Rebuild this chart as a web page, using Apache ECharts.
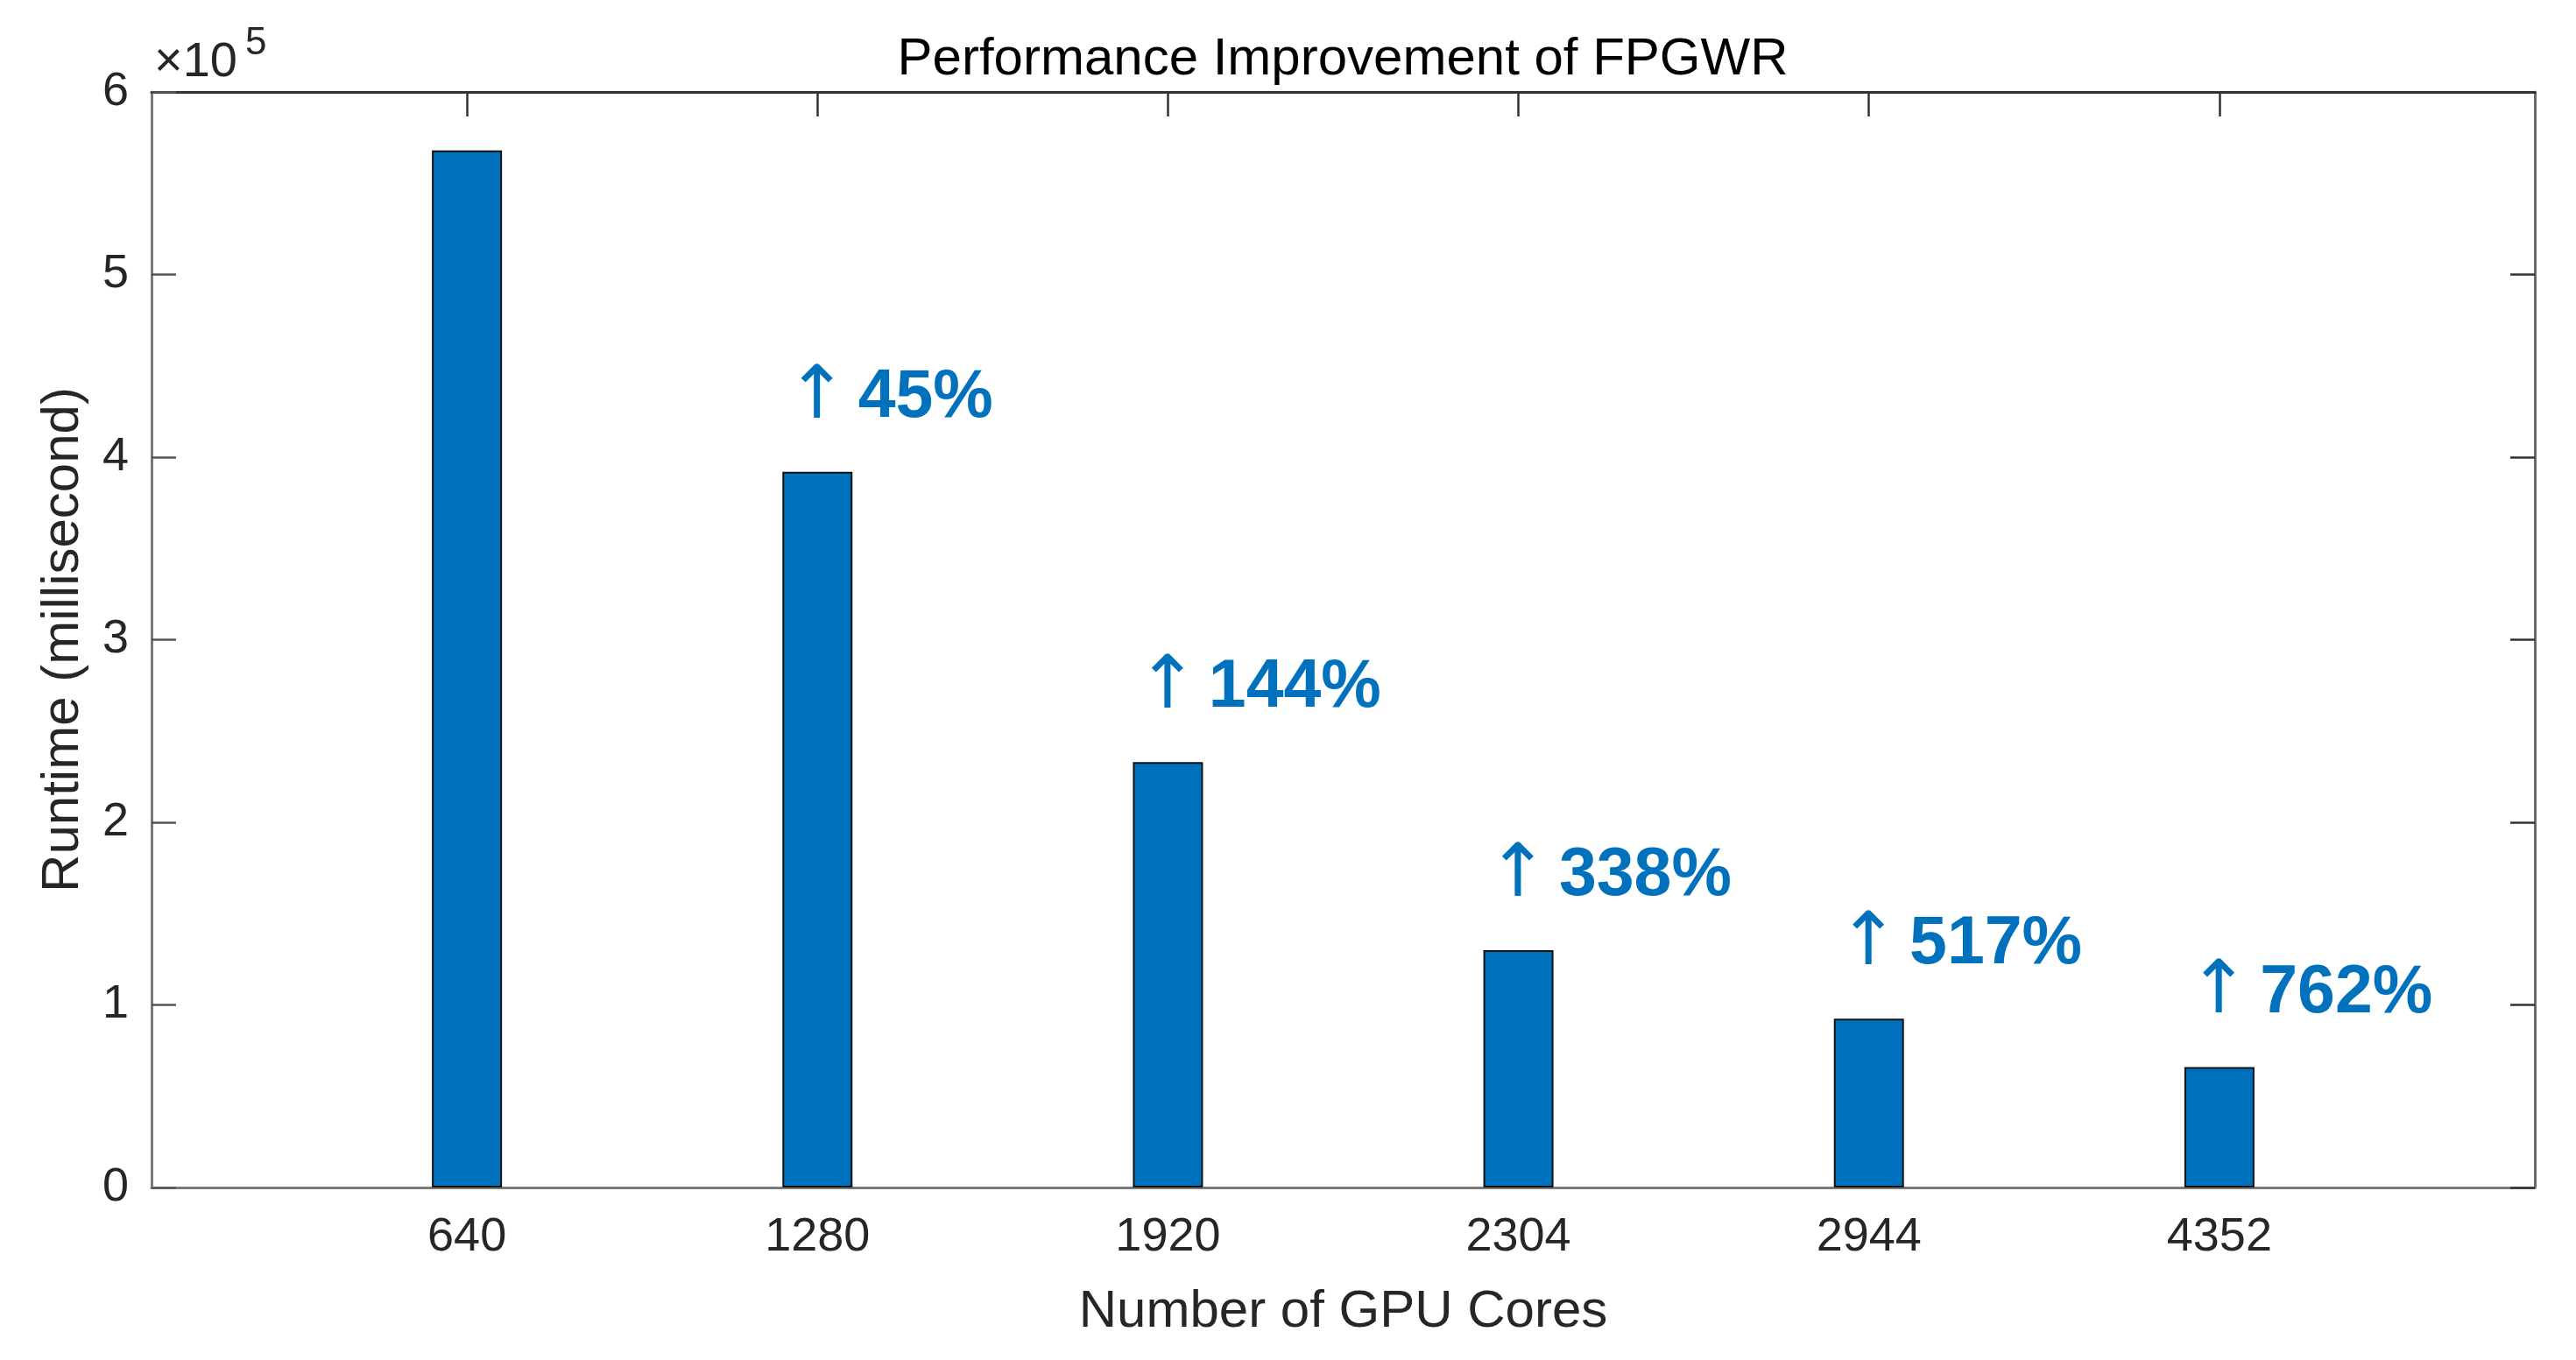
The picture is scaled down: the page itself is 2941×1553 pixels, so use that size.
<!DOCTYPE html>
<html>
<head>
<meta charset="utf-8">
<script src="https://cdn.jsdelivr.net/npm/echarts@6/dist/echarts.min.js"></script>
<style>
html,body{margin:0;padding:0;background:#fff;}
#chart{width:2941px;height:1553px;}
</style>
</head>
<body>
<div id="chart"></div>
<script>
// ---- data ----
const coreLabels = ['640', '1280', '1920', '2304', '2944', '4352'];
const runtimeMs = [568000, 392000, 233000, 130000, 92500, 66000];
const improvementPct = [null, 45, 144, 338, 517, 762];

const FONT = '"Liberation Sans", Arial, Helvetica, sans-serif';
const TXT = '#262626';
const BLUE = '#0072BD';

const positions = coreLabels.map((_, i) => i + 1);
const barData = runtimeMs.map((v, i) => [positions[i], v]);

const chart = echarts.init(document.getElementById('chart'), null, {renderer: 'canvas'});

const commonX = {
  type: 'value', min: 0.1, max: 6.9,
  splitLine: {show: false}
};

const option = {
  animation: false,
  backgroundColor: '#fff',
  grid: {left: 173, right: 47, top: 105, bottom: 197, containLabel: false},
  xAxis: [
    Object.assign({}, commonX, {
      position: 'bottom',
      name: 'Number of GPU Cores',
      nameLocation: 'middle', nameGap: 112,
      nameTextStyle: {fontFamily: FONT, fontSize: 60, color: TXT},
      axisLine: {show: true, onZero: false, lineStyle: {color: '#7a7a7a', width: 3}},
      axisTick: {show: true, inside: true, length: 28, customValues: positions, lineStyle: {color: '#333', width: 2.5}},
      axisLabel: {show: true, customValues: positions, margin: 30,
        fontFamily: FONT, fontSize: 54, color: TXT,
        formatter: v => coreLabels[Math.round(v) - 1] || ''}
    }),
    Object.assign({}, commonX, {
      position: 'top',
      axisLine: {show: true, onZero: false, lineStyle: {color: '#333', width: 3}},
      axisTick: {show: true, inside: true, length: 28, customValues: positions, lineStyle: {color: '#333', width: 2.5}},
      axisLabel: {show: false}
    })
  ],
  yAxis: [
    {
      type: 'value', min: 0, max: 600000, interval: 100000, position: 'left',
      name: 'Runtime (millisecond)', nameLocation: 'middle', nameGap: 71, nameRotate: 90,
      nameTextStyle: {fontFamily: FONT, fontSize: 60, color: TXT},
      axisLine: {show: true, onZero: false, lineStyle: {color: '#7a7a7a', width: 3}},
      axisTick: {show: true, inside: true, length: 28, lineStyle: {color: '#555', width: 2.5}},
      axisLabel: {show: true, margin: 26, fontFamily: FONT, fontSize: 54, color: TXT,
        formatter: v => String(Math.round(v / 100000))},
      splitLine: {show: false}
    },
    {
      type: 'value', min: 0, max: 600000, interval: 100000, position: 'right',
      axisLine: {show: true, onZero: false, lineStyle: {color: '#6a6a6a', width: 3}},
      axisTick: {show: true, inside: true, length: 28, lineStyle: {color: '#333', width: 2.5}},
      axisLabel: {show: false},
      splitLine: {show: false}
    }
  ],
  graphic: [
    {type: 'text', x: 1533, y: 38, z: 100,
      style: {text: 'Performance Improvement of FPGWR', font: '60px ' + FONT, fill: '#000', align: 'center', verticalAlign: 'top'}},
    {type: 'text', left: 176, top: 44, z: 100,
      style: {text: '×10', font: '56px ' + FONT, fill: TXT}},
    {type: 'text', left: 280, top: 28, z: 100,
      style: {text: '5', font: '44px ' + FONT, fill: TXT}}
  ],
  series: [{
    type: 'bar',
    xAxisIndex: 0, yAxisIndex: 0,
    data: barData,
    barWidth: 80,
    itemStyle: {color: BLUE, borderColor: '#111', borderWidth: 2},
    label: {
      show: true, position: 'top', distance: 42, align: 'left', offset: [-36, 0],
      formatter: p => {
        const v = improvementPct[p.dataIndex];
        return v == null ? '' : '{a|↑}{b|' + v + '%}';
      },
      rich: {
        a: {fontFamily: '"DejaVu Sans", ' + FONT, fontSize: 84, color: BLUE, fontWeight: 'normal', verticalAlign: 'middle'},
        b: {fontFamily: FONT, fontSize: 77, color: BLUE, fontWeight: 'bold', verticalAlign: 'middle', padding: [0, 0, 0, 12]}
      }
    }
  }]
};
chart.setOption(option);
</script>
</body>
</html>
